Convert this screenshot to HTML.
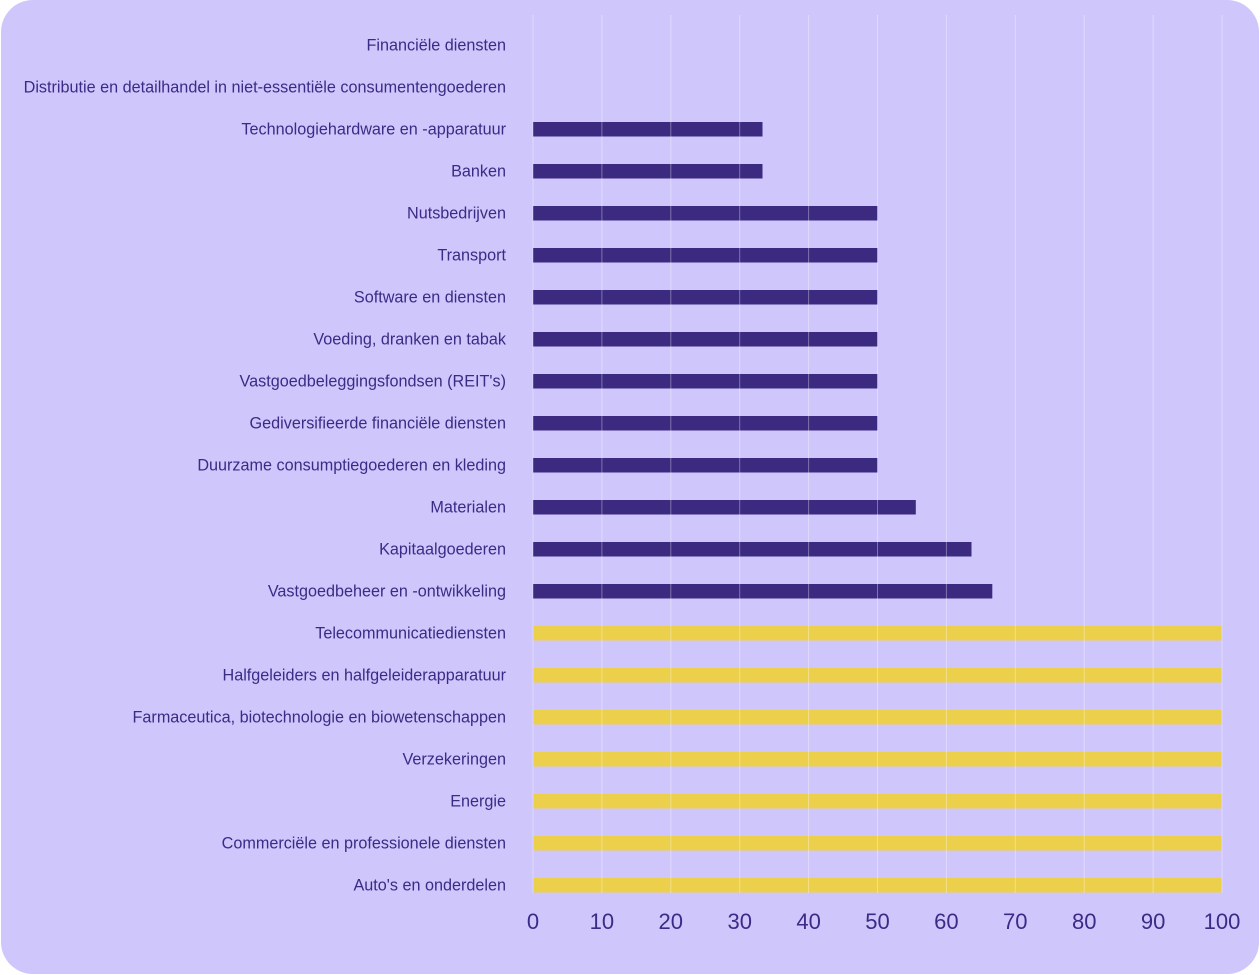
<!DOCTYPE html>
<html>
<head>
<meta charset="utf-8">
<style>
  html, body { margin:0; padding:0; background:#ffffff; }
  body { width:1260px; height:975px; overflow:hidden; }
  .card { position:absolute; left:1px; top:0; width:1258px; height:974px; background:#cfc6fc; border-radius:32px; }
  svg { position:absolute; left:0; top:0; }
  text { font-family:"Liberation Sans", sans-serif; fill:#3b2b86; }
</style>
</head>
<body>
<div class="card"></div>
<svg width="1260" height="975" viewBox="0 0 1260 975" xmlns="http://www.w3.org/2000/svg">
  <g>
    <rect x="533" y="122" width="229.5" height="14.5" fill="#3b2a80"/>
    <rect x="533" y="164" width="229.5" height="14.5" fill="#3b2a80"/>
    <rect x="533" y="206" width="344.5" height="14.5" fill="#3b2a80"/>
    <rect x="533" y="248" width="344.5" height="14.5" fill="#3b2a80"/>
    <rect x="533" y="290" width="344.5" height="14.5" fill="#3b2a80"/>
    <rect x="533" y="332" width="344.5" height="14.5" fill="#3b2a80"/>
    <rect x="533" y="374" width="344.5" height="14.5" fill="#3b2a80"/>
    <rect x="533" y="416" width="344.5" height="14.5" fill="#3b2a80"/>
    <rect x="533" y="458" width="344.5" height="14.5" fill="#3b2a80"/>
    <rect x="533" y="500" width="382.8" height="14.5" fill="#3b2a80"/>
    <rect x="533" y="542" width="438.5" height="14.5" fill="#3b2a80"/>
    <rect x="533" y="584" width="459.3" height="14.5" fill="#3b2a80"/>
    <rect x="533" y="626" width="689" height="14.5" fill="#ecd04b"/>
    <rect x="533" y="668" width="689" height="14.5" fill="#ecd04b"/>
    <rect x="533" y="710" width="689" height="14.5" fill="#ecd04b"/>
    <rect x="533" y="752" width="689" height="14.5" fill="#ecd04b"/>
    <rect x="533" y="794" width="689" height="14.5" fill="#ecd04b"/>
    <rect x="533" y="836" width="689" height="14.5" fill="#ecd04b"/>
    <rect x="533" y="878" width="689" height="14.5" fill="#ecd04b"/>
  </g>
  <g stroke="#ffffff" stroke-opacity="0.35" stroke-width="1">
    <line x1="533" y1="15" x2="533" y2="893"/>
    <line x1="601.9" y1="15" x2="601.9" y2="893"/>
    <line x1="670.8" y1="15" x2="670.8" y2="893"/>
    <line x1="739.7" y1="15" x2="739.7" y2="893"/>
    <line x1="808.6" y1="15" x2="808.6" y2="893"/>
    <line x1="877.5" y1="15" x2="877.5" y2="893"/>
    <line x1="946.4" y1="15" x2="946.4" y2="893"/>
    <line x1="1015.3" y1="15" x2="1015.3" y2="893"/>
    <line x1="1084.2" y1="15" x2="1084.2" y2="893"/>
    <line x1="1153.1" y1="15" x2="1153.1" y2="893"/>
    <line x1="1222" y1="15" x2="1222" y2="893"/>
  </g>
  <g font-size="16.2" text-anchor="end">
    <text x="506" y="50.5">Financiële diensten</text>
    <text x="506" y="92.5">Distributie en detailhandel in niet-essentiële consumentengoederen</text>
    <text x="506" y="134.5">Technologiehardware en -apparatuur</text>
    <text x="506" y="176.5">Banken</text>
    <text x="506" y="218.5">Nutsbedrijven</text>
    <text x="506" y="260.5">Transport</text>
    <text x="506" y="302.5">Software en diensten</text>
    <text x="506" y="344.5">Voeding, dranken en tabak</text>
    <text x="506" y="386.5">Vastgoedbeleggingsfondsen (REIT's)</text>
    <text x="506" y="428.5">Gediversifieerde financiële diensten</text>
    <text x="506" y="470.5">Duurzame consumptiegoederen en kleding</text>
    <text x="506" y="512.5">Materialen</text>
    <text x="506" y="554.5">Kapitaalgoederen</text>
    <text x="506" y="596.5">Vastgoedbeheer en -ontwikkeling</text>
    <text x="506" y="638.5">Telecommunicatiediensten</text>
    <text x="506" y="680.5">Halfgeleiders en halfgeleiderapparatuur</text>
    <text x="506" y="722.5">Farmaceutica, biotechnologie en biowetenschappen</text>
    <text x="506" y="764.5">Verzekeringen</text>
    <text x="506" y="806.5">Energie</text>
    <text x="506" y="848.5">Commerciële en professionele diensten</text>
    <text x="506" y="890.5">Auto's en onderdelen</text>
  </g>
  <g font-size="22" text-anchor="middle">
    <text x="533" y="929">0</text>
    <text x="601.9" y="929">10</text>
    <text x="670.8" y="929">20</text>
    <text x="739.7" y="929">30</text>
    <text x="808.6" y="929">40</text>
    <text x="877.5" y="929">50</text>
    <text x="946.4" y="929">60</text>
    <text x="1015.3" y="929">70</text>
    <text x="1084.2" y="929">80</text>
    <text x="1153.1" y="929">90</text>
    <text x="1222" y="929">100</text>
  </g>
</svg>
</body>
</html>
